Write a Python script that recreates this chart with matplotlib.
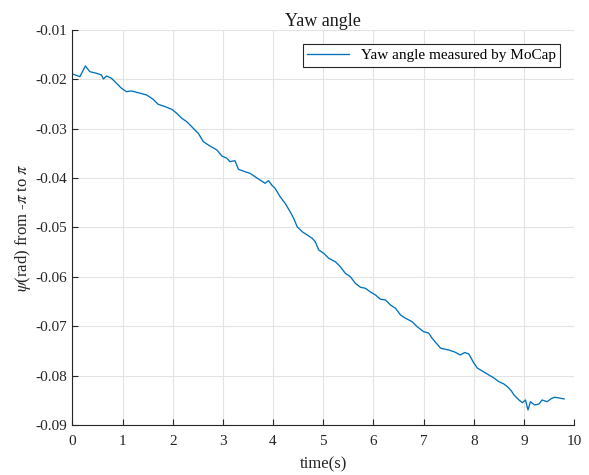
import matplotlib
matplotlib.use("Agg")
import matplotlib.pyplot as plt

plt.rcParams['font.family'] = ['Liberation Serif', 'DejaVu Serif']
plt.rcParams['mathtext.fontset'] = 'stix'

# Yaw angle samples (time in s, angle in rad)
time_s = [0.00, 0.06, 0.15, 0.26, 0.35, 0.48, 0.58, 0.62, 0.68, 0.78,
          0.88, 0.98, 1.08, 1.18, 1.31, 1.48, 1.61, 1.71, 1.85, 1.98,
          2.08, 2.18, 2.28, 2.41, 2.51, 2.61, 2.74, 2.88, 2.98, 3.08,
          3.14, 3.24, 3.31, 3.44, 3.54, 3.64, 3.74, 3.84, 3.91, 3.98,
          4.04, 4.14, 4.24, 4.34, 4.41, 4.48, 4.58, 4.68, 4.78, 4.84,
          4.91, 5.01, 5.11, 5.24, 5.34, 5.44, 5.54, 5.64, 5.74, 5.84,
          5.94, 6.04, 6.14, 6.24, 6.34, 6.44, 6.54, 6.64, 6.77, 6.87,
          7.00, 7.10, 7.17, 7.34, 7.50, 7.62, 7.73, 7.82, 7.90, 8.00,
          8.07, 8.20, 8.30, 8.40, 8.50, 8.60, 8.67, 8.75, 8.80, 8.90,
          8.97, 9.03, 9.08, 9.13, 9.21, 9.30, 9.36, 9.46, 9.55, 9.61,
          9.70, 9.80]
yaw_rad = [-0.01891, -0.01911, -0.01946, -0.01729, -0.01845, -0.01877, -0.01911, -0.01992, -0.01932, -0.01978,
           -0.02080, -0.02181, -0.02250, -0.02235, -0.02270, -0.02316, -0.02404, -0.02505, -0.02553, -0.02606,
           -0.02687, -0.02788, -0.02857, -0.02991, -0.03092, -0.03262, -0.03349, -0.03430, -0.03552, -0.03599,
           -0.03667, -0.03647, -0.03821, -0.03870, -0.03902, -0.03971, -0.04038, -0.04105, -0.04052, -0.04149,
           -0.04206, -0.04376, -0.04510, -0.04680, -0.04814, -0.04984, -0.05085, -0.05152, -0.05219, -0.05288,
           -0.05456, -0.05523, -0.05624, -0.05693, -0.05794, -0.05928, -0.05997, -0.06130, -0.06211, -0.06231,
           -0.06306, -0.06367, -0.06454, -0.06468, -0.06570, -0.06637, -0.06772, -0.06839, -0.06908, -0.07009,
           -0.07110, -0.07137, -0.07244, -0.07447, -0.07481, -0.07522, -0.07582, -0.07532, -0.07562, -0.07744,
           -0.07846, -0.07927, -0.07987, -0.08048, -0.08123, -0.08170, -0.08224, -0.08311, -0.08392, -0.08494,
           -0.08548, -0.08494, -0.08696, -0.08528, -0.08595, -0.08575, -0.08494, -0.08528, -0.08463, -0.08439,
           -0.08453, -0.08473]

x_ticks = [0, 1, 2, 3, 4, 5, 6, 7, 8, 9, 10]
y_ticks = [-0.09, -0.08, -0.07, -0.06, -0.05, -0.04, -0.03, -0.02, -0.01]
y_tick_labels = ['-0.09', '-0.08', '-0.07', '-0.06', '-0.05', '-0.04', '-0.03', '-0.02', '-0.01']

fig = plt.figure(figsize=(5.89, 4.75), dpi=100)
ax = fig.add_axes([0.1228, 0.1053, 0.852, 0.8316])

ax.plot(time_s, yaw_rad, color='#0072BD', linewidth=0.95,
        label='Yaw angle measured by MoCap')

ax.set_xlim(0, 10)
ax.set_ylim(-0.09, -0.01)
ax.set_xticks(x_ticks)
ax.set_yticks(y_ticks)
ax.set_yticklabels(y_tick_labels)
ax.grid(True, color='#e3e3e3', linewidth=0.8)
ax.set_axisbelow(True)

for side in ('top', 'right'):
    ax.spines[side].set_visible(False)
for side in ('left', 'bottom'):
    ax.spines[side].set_color('#262626')
    ax.spines[side].set_linewidth(0.8)

ax.tick_params(direction='in', length=4, width=0.8, colors='#262626',
               labelsize=11, labelcolor='#262626')
ax.tick_params(axis='x', pad=7)

ax.set_title('Yaw angle', fontsize=13, color='#1a1a1a', pad=3)
ax.set_xlabel('time(s)', fontsize=12, color='#262626', labelpad=6)
ax.set_ylabel(r'$\psi$(rad) from -$\pi$ to $\pi$', fontsize=12, color='#262626', labelpad=2)

leg = ax.legend(loc='upper right', fontsize=11, frameon=True, fancybox=False,
                edgecolor='#262626', framealpha=1, borderaxespad=0.9,
                handlelength=2.7, borderpad=0.3)
leg.get_frame().set_linewidth(0.8)

fig.savefig('out.png', dpi=100)
